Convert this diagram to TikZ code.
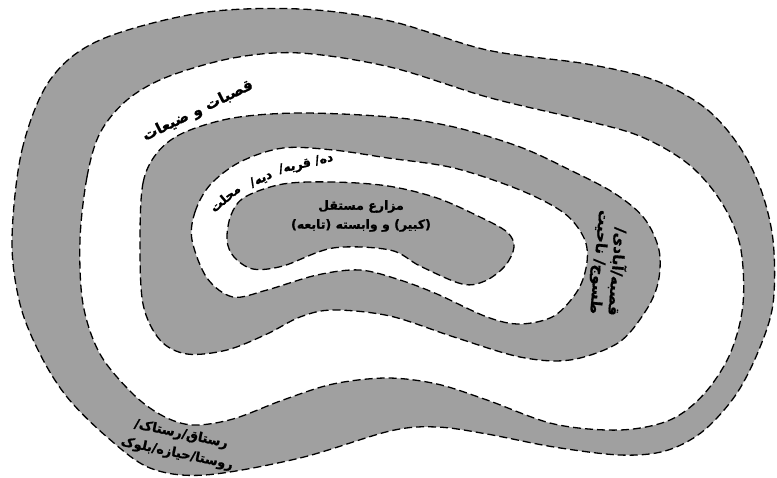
\documentclass[tikz,border=0pt]{standalone}
\usepackage{fontspec}
\newfontfamily\arabicfont[Script=Arabic,BoldFeatures={FakeBold=1}]{DejaVu Sans}
\TeXXeTstate=1
\definecolor{bandgray}{RGB}{160,160,160}
\begin{document}
\begin{tikzpicture}[x=1pt,y=-1pt,
  band/.style={fill=bandgray},
  hole/.style={fill=white},
  edge/.style={draw=black,line width=1.3pt,dash pattern=on 8pt off 4pt},
  lbl/.style={font=\arabicfont\bfseries,inner sep=0pt}]
\useasboundingbox (0,0) rectangle (777,477);
\def\cA{(12,240) (22,150) (50,80) (100,40) (200,13) (300,9) (390,21) (487,50) (587,64) (654,80) (704,107) (737,143) (760,187) (773,240) (773,304) (758,352) (735,396) (702,432) (665,451) (620,455) (554,447) (487,434) (437,427) (390,431) (300,458) (205,475) (150,468) (107,437) (67,397) (40,354) (20,304)}
\def\cB{(80,240) (87,177) (100,133) (127,100) (167,77) (233,58) (300,53) (390,67) (487,97) (570,117) (637,135) (687,163) (720,200) (740,245) (743,304) (730,354) (704,394) (670,420) (620,430) (554,424) (487,400) (437,384) (387,378) (333,384) (283,400) (233,419) (193,425) (163,416) (133,394) (100,354) (83,304)}
\def\cC{(140,240) (143,183) (157,153) (183,133) (233,118) (300,113) (390,117) (454,127) (520,147) (570,170) (614,193) (644,218) (659,250) (658,283) (645,312) (618,343) (570,360) (520,357) (454,337) (390,316) (333,310) (300,317) (267,334) (227,350) (187,354) (160,340) (143,304)}
\def\cD{(192,240) (195,212) (210,185) (240,162) (283,148) (333,150) (388,158) (454,168) (520,190) (564,213) (584,238) (587,262) (578,290) (554,316) (520,324) (487,317) (437,294) (400,280) (360,270) (317,275) (267,290) (233,297) (207,278)}
\def\cE{(227,240) (231,215) (245,197) (283,184) (333,182) (388,186) (437,198) (480,217) (507,232) (514,247) (505,266) (485,281) (462,284) (420,266) (390,250) (333,248) (283,266) (253,269) (234,257)}
\fill[band] plot[smooth cycle,tension=0.55] coordinates {\cA};
\fill[hole] plot[smooth cycle,tension=0.55] coordinates {\cB};
\fill[band] plot[smooth cycle,tension=0.55] coordinates {\cC};
\fill[hole] plot[smooth cycle,tension=0.55] coordinates {\cD};
\fill[band] plot[smooth cycle,tension=0.55] coordinates {\cE};
\draw[edge] plot[smooth cycle,tension=0.55] coordinates {\cA};
\draw[edge] plot[smooth cycle,tension=0.55] coordinates {\cB};
\draw[edge] plot[smooth cycle,tension=0.55] coordinates {\cC};
\draw[edge] plot[smooth cycle,tension=0.55] coordinates {\cD};
\draw[edge] plot[smooth cycle,tension=0.55] coordinates {\cE};
\node[lbl,font=\arabicfont\bfseries\fontsize{15}{17}\selectfont,rotate=26] (t1) at (198,111) {\beginR قصبات و ضیعات\endR};
\node[lbl,font=\arabicfont\bfseries\fontsize{12.5}{14}\selectfont,rotate=13] (t2a) at (306,164) {\beginR ده/ قریه/\endR};
\node[lbl,font=\arabicfont\bfseries\fontsize{12.5}{14}\selectfont,rotate=26] (t2b) at (261,179) {\beginR دیه/\endR};
\node[lbl,font=\arabicfont\bfseries\fontsize{12.5}{14}\selectfont,rotate=40] (t2c) at (225,198) {\beginR محلت\endR};
\node[lbl,font=\arabicfont\bfseries\fontsize{12.5}{19}\selectfont,align=center] (t3) at (361,216) {\beginR مزارع مستقل\endR\\\beginR (کبیر) و وابسته (تابعه)\endR};
\node[lbl,font=\arabicfont\bfseries\fontsize{15}{18}\selectfont,rotate=-95,align=right] (t4) at (609,263) {\beginR قصبه/آبادی/\endR\\\beginR طسوج/ ناحیت\endR};
\node[lbl,font=\arabicfont\bfseries\fontsize{13}{20}\selectfont,rotate=-12,align=center] (t5) at (179,444) {\beginR رستاق/رستاک/\endR\\\beginR روستا/حیازه/بلوک\endR};
\end{tikzpicture}
\end{document}
